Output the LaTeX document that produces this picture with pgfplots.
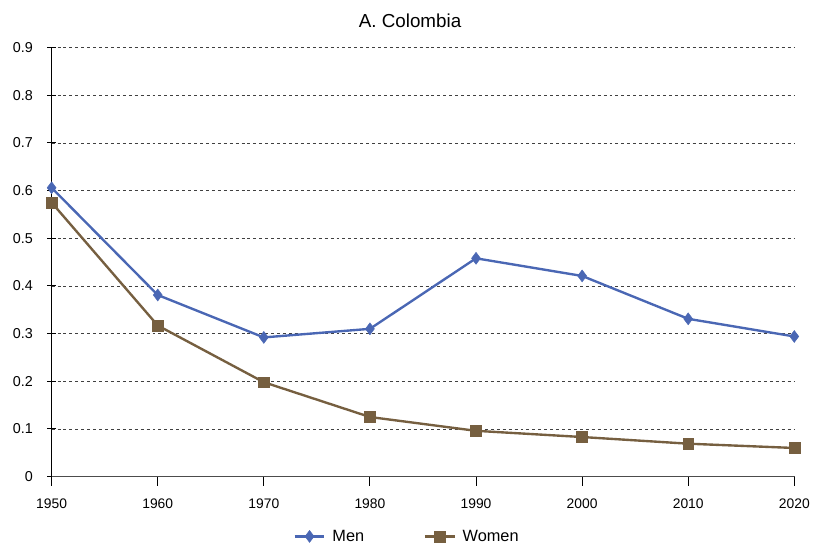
\documentclass[border=0pt]{standalone}
\usepackage{pgfplots}
\pgfplotsset{compat=1.18}
\usepackage{fontspec}
\setmainfont{Liberation Sans}
\definecolor{menblue}{RGB}{74,103,180}
\definecolor{womenbrown}{RGB}{118,95,64}
\begin{document}
\begin{tikzpicture}
  \begin{axis}[
      width=748bp, height=432bp,
      scale only axis,
      xmin=1950, xmax=2020,
      ymin=0, ymax=0.9,
      xtick={1950,1960,...,2020},
      ytick={0,0.1,...,0.9},
      yticklabel style={/pgf/number format/fixed, /pgf/number format/precision=1,
        font=\fontsize{14.5}{16}\selectfont},
      xticklabel style={/pgf/number format/1000 sep={}},
      /pgf/number format/assume math mode=true,
      ticklabel style={font=\fontsize{14}{16}\selectfont},
      axis x line*=bottom,
      axis y line*=left,
      x axis line style={draw=black!70, line width=1.3pt, -},
      y axis line style={draw=black, line width=1pt, -},
      xtick style={draw=black, line width=1pt},
      ytick style={draw=black, line width=1pt},
      xtick align=outside,
      ytick align=center,
      major tick length=9bp,
      xticklabel shift=10bp,
      yticklabel shift=11bp,
      ymajorgrids=true,
      grid style={dashed, black!75, line width=0.8pt},
      title={A. Colombia},
      title style={font=\fontsize{19}{21}\selectfont, yshift=11bp, xshift=-13bp},
      legend style={at={(0.5,-0.115)}, anchor=north, xshift=-16bp, draw=none,
        legend columns=2, font=\fontsize{16.5}{19}\selectfont,
        /tikz/every even column/.append style={column sep=58bp}},
      legend cell align=left,
      legend image post style={line width=2.2pt},
      legend image code/.code={
        \draw[#1] (0bp,0bp) -- (15bp,0bp) -- (30bp,0bp);
        \draw[#1, only marks] plot coordinates {(15bp,0bp)};
        \path (35bp,0bp);
      },
    ]
    \addplot[color=menblue, line width=2.4pt, mark=diamond*, mark size=6bp,
      mark options={solid, fill=menblue, draw=menblue, line width=0.5pt}]
      coordinates {
        (1950, 0.606) (1960, 0.381) (1970, 0.292) (1980, 0.310)
        (1990, 0.458) (2000, 0.421) (2010, 0.331) (2020, 0.294)
      };
    \addlegendentry{Men}
    \addplot[color=womenbrown, line width=2.4pt, mark=square*, mark size=5.5bp,
      mark options={solid, fill=womenbrown, draw=womenbrown, line width=0.5pt}]
      coordinates {
        (1950, 0.575) (1960, 0.317) (1970, 0.198) (1980, 0.125)
        (1990, 0.096) (2000, 0.083) (2010, 0.069) (2020, 0.060)
      };
    \addlegendentry{Women}
  \end{axis}
  % page margins as in the reference
  \path (current axis.south west) ++(-52bp,-68bp);
  \path (current axis.north east) ++(13bp,48bp);
\end{tikzpicture}
\end{document}
